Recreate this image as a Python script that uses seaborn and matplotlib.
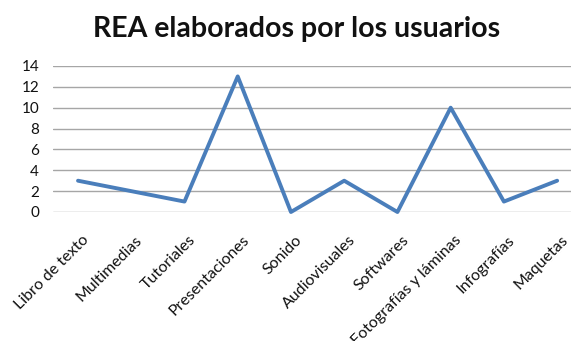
import matplotlib
matplotlib.use("Agg")
import matplotlib.pyplot as plt
import matplotlib.transforms as mtransforms
import seaborn as sns
import pandas as pd

categories = ["Libro de texto", "Multimedias", "Tutoriales", "Presentaciones", "Sonido",
              "Audiovisuales", "Softwares", "Fotografías y láminas", "Infografías", "Maquetas"]
values = [3, 2, 1, 13, 0, 3, 0, 10, 1, 3]
y_ticks = [0, 2, 4, 6, 8, 10, 12, 14]

sns.set_theme(style="white")
plt.rcParams["font.family"] = ["Lato", "DejaVu Sans"]

df = pd.DataFrame({"tipo": categories, "cantidad": values})
df["pos"] = range(len(categories))

fig = plt.figure(figsize=(5.71, 3.41), dpi=100)
ax = fig.add_axes([0.0928, 0.3783, 0.9072, 0.4282])

sns.lineplot(data=df, x="pos", y="cantidad", ax=ax, color="#4a7ebb", linewidth=2.8,
             clip_on=False, zorder=3)

ax.set_xlim(-0.47, 9.26)
ax.set_ylim(0, 14)
ax.set_yticks(y_ticks)
ax.set_yticklabels([str(t) for t in y_ticks], fontsize=11, color="#111111")
ax.set_xticks(df["pos"])
ax.set_xticklabels(categories, rotation=45, ha="right", rotation_mode="anchor",
                   fontsize=11.5, color="#111111")
ax.tick_params(axis="x", pad=15, length=0)
ax.tick_params(axis="y", pad=10, length=0)
shift = mtransforms.ScaledTranslation(4 / 100, 0, fig.dpi_scale_trans)
for lbl in ax.get_xticklabels():
    lbl.set_transform(lbl.get_transform() + shift)
for t in y_ticks:
    ax.axhline(t, color="#a6a6a6", linewidth=1.0, zorder=1)
for s in ax.spines.values():
    s.set_visible(False)
ax.set_xlabel("")
ax.set_ylabel("")

fig.text(0.52, 0.915, "REA elaborados por los usuarios", ha="center", va="center",
         fontsize=20.5, fontweight="bold", color="#111111")

fig.savefig("out.png", dpi=100)
